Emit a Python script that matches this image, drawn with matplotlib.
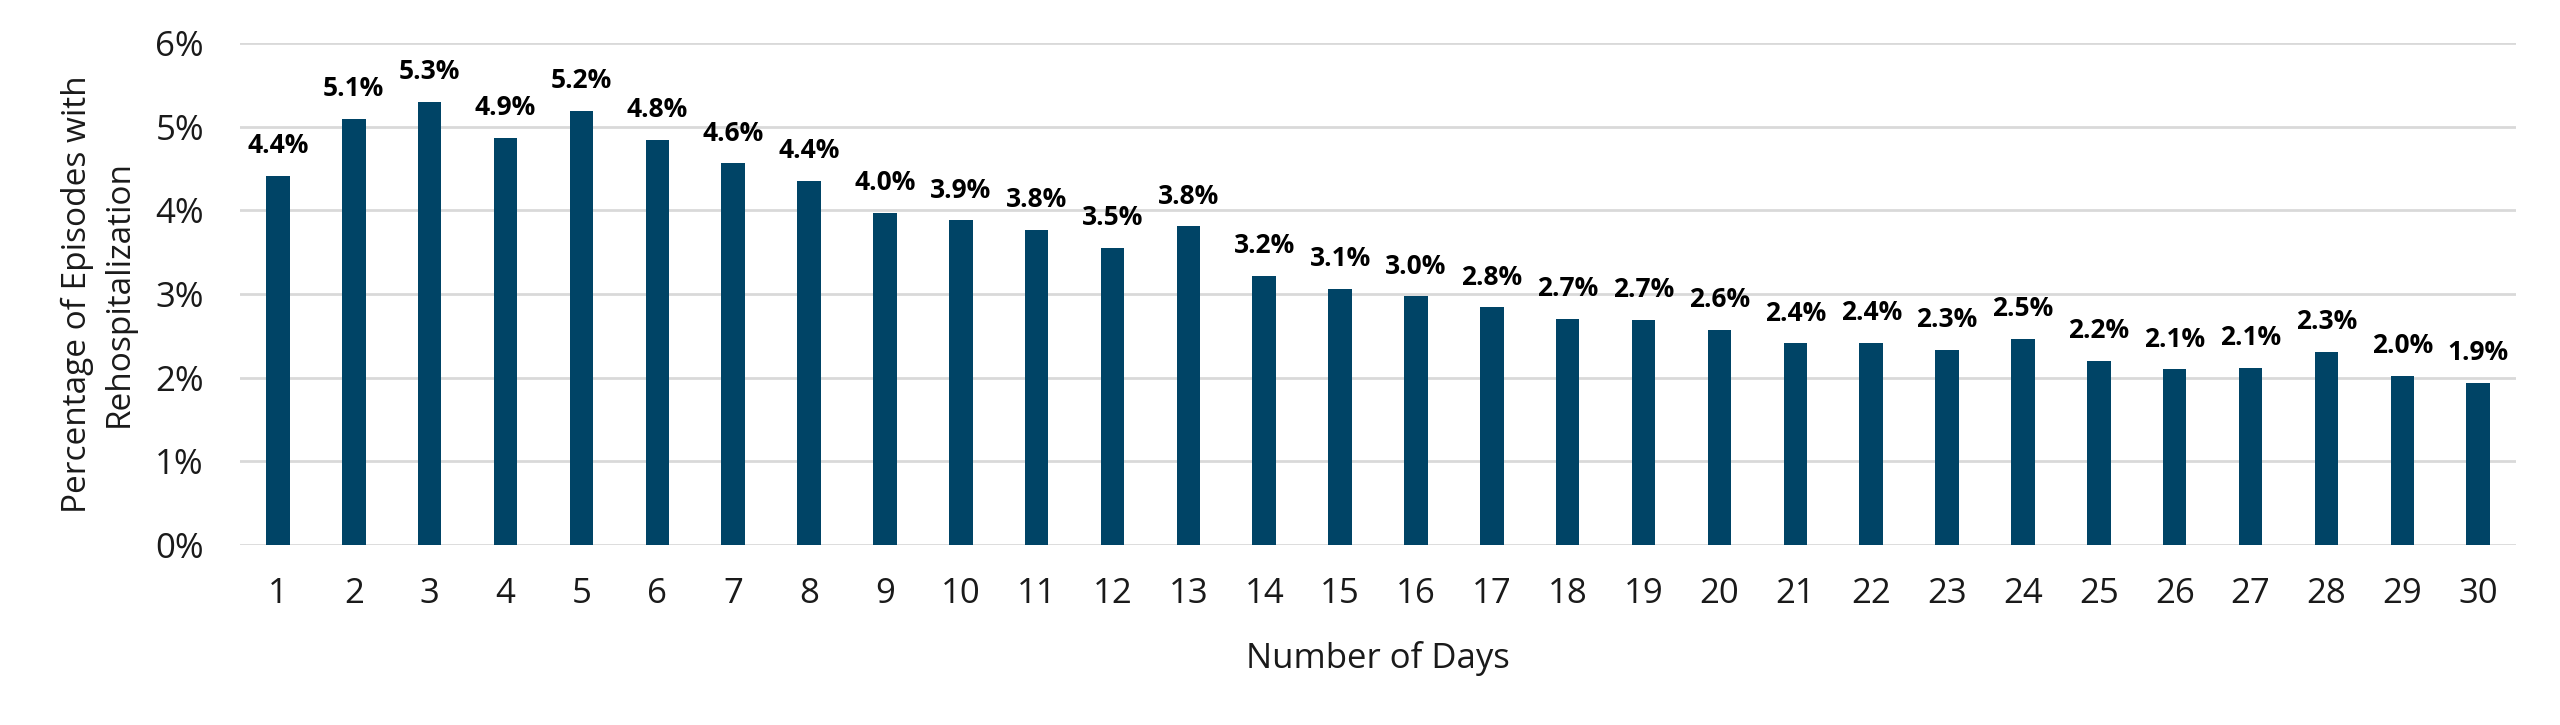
import numpy as np
import matplotlib.pyplot as plt
from matplotlib.ticker import FuncFormatter

plt.rcParams['font.family'] = ['Open Sans', 'DejaVu Sans']

days = [str(d) for d in range(1, 31)]
rates = [4.41, 5.09, 5.30, 4.87, 5.19, 4.84, 4.56, 4.35, 3.97, 3.88,
         3.77, 3.55, 3.81, 3.22, 3.06, 2.97, 2.84, 2.70, 2.69, 2.57,
         2.41, 2.42, 2.33, 2.46, 2.20, 2.10, 2.12, 2.31, 2.02, 1.94]
labels = ['4.4%', '5.1%', '5.3%', '4.9%', '5.2%', '4.8%', '4.6%', '4.4%', '4.0%', '3.9%',
          '3.8%', '3.5%', '3.8%', '3.2%', '3.1%', '3.0%', '2.8%', '2.7%', '2.7%', '2.6%',
          '2.4%', '2.4%', '2.3%', '2.5%', '2.2%', '2.1%', '2.1%', '2.3%', '2.0%', '1.9%']

fig = plt.figure(figsize=(25.6, 7.25), dpi=100)
ax = fig.add_axes([0.09375, 0.2483, 0.8891, 0.6924])

x = np.arange(len(days))
bars = ax.bar(x, rates, width=0.31, color='#004466', zorder=3)
ax.bar_label(bars, labels=labels, padding=12, fontsize=19, fontweight='bold')

ax.set_xlim(-0.5, len(days) - 0.5)
ax.set_ylim(0, 6)
ax.set_yticks(range(0, 7))
ax.yaxis.set_major_formatter(FuncFormatter(lambda v, p: f'{v:.0f}%'))
ax.set_xticks(x)
ax.set_xticklabels(days)
ax.tick_params(axis='both', length=0, labelsize=25, colors='#1a1a1a')
ax.tick_params(axis='x', pad=23)
ax.tick_params(axis='y', pad=26)

ax.grid(axis='y', color='#d9d9d9', linewidth=2, zorder=0)
for s in ax.spines.values():
    s.set_visible(False)

ax.set_xlabel('Number of Days', fontsize=25, labelpad=22, color='#1a1a1a')
ax.set_ylabel('Percentage of Episodes with\nRehospitalization', fontsize=24,
              labelpad=14, color='#1a1a1a', linespacing=1.35)

fig.savefig('out.png', dpi=100)
